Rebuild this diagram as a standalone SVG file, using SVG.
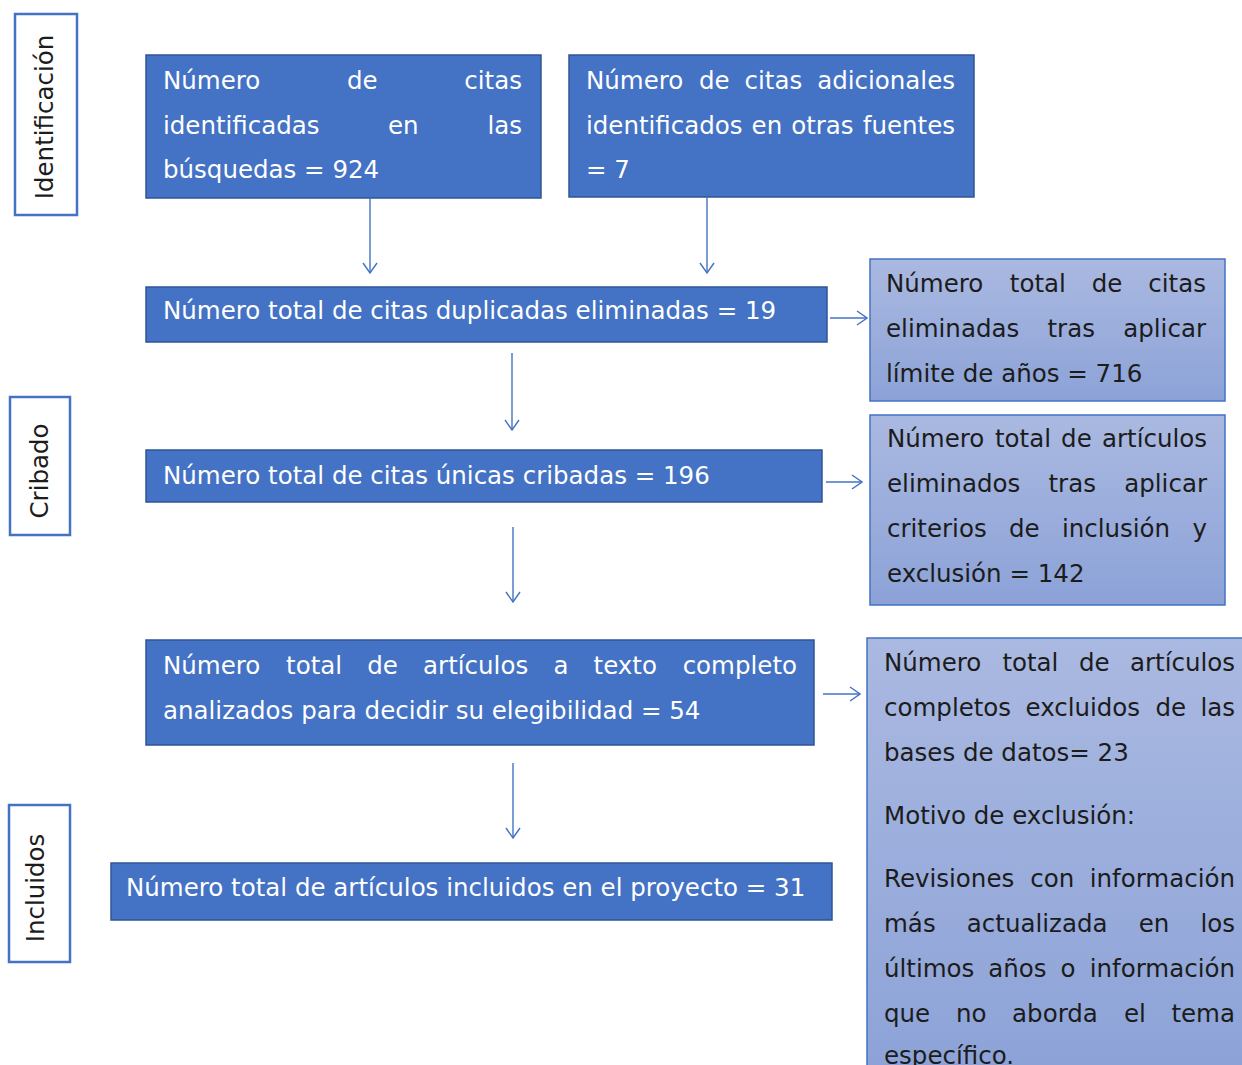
<svg xmlns="http://www.w3.org/2000/svg" width="1242" height="1065" viewBox="0 0 1242 1065">
<style>
text{font-family:"DejaVu Sans","Verdana",sans-serif;font-size:24.5px}
.w{fill:#ffffff}
.d{fill:#1c1c1c}
.main{fill:#4472C4;stroke:#2F5597;stroke-width:1.5}
.side{fill:url(#g);stroke:#4472C4;stroke-width:1.5}
.lab{fill:#ffffff;stroke:#4472C4;stroke-width:2.5}
.c{stroke:#4472C4;stroke-width:1.4;fill:none}
</style>
<defs>
<linearGradient id="g" x1="0" y1="0" x2="0" y2="1">
<stop offset="0" stop-color="#AAB9E1"/>
<stop offset="1" stop-color="#8CA2D7"/>
</linearGradient>
<marker id="a" viewBox="0 0 12 16" refX="11" refY="8" markerWidth="12" markerHeight="16" markerUnits="userSpaceOnUse" orient="auto">
<path d="M1,1 L11,8 L1,15" fill="none" stroke="#4472C4" stroke-width="1.4"/>
</marker>
</defs>

<g id="label-identificacion">
<rect class="lab" x="15" y="14" width="62" height="201"/>
<text class="d" transform="translate(53,117) rotate(-90)" text-anchor="middle">Identificación</text>
</g>
<g id="label-cribado">
<rect class="lab" x="10" y="397" width="60" height="138"/>
<text class="d" transform="translate(48,471) rotate(-90)" text-anchor="middle">Cribado</text>
</g>
<g id="label-incluidos">
<rect class="lab" x="9" y="805" width="61" height="157"/>
<text class="d" transform="translate(44,888) rotate(-90)" text-anchor="middle">Incluidos</text>
</g>

<g id="n1">
<rect class="main" x="146" y="55" width="395" height="143"/>
<text class="w" y="89"><tspan x="163">Número</tspan><tspan x="347">de</tspan><tspan x="522" text-anchor="end">citas</tspan></text>
<text class="w" y="134"><tspan x="163">identificadas</tspan><tspan x="388">en</tspan><tspan x="522" text-anchor="end">las</tspan></text>
<text class="w" x="163" y="178">búsquedas = 924</text>
</g>

<g id="n2">
<rect class="main" x="569" y="55" width="405" height="142"/>
<text class="w" y="89"><tspan x="586">Número</tspan><tspan x="699">de</tspan><tspan x="744.5">citas</tspan><tspan x="955" text-anchor="end">adicionales</tspan></text>
<text class="w" y="134"><tspan x="586">identificados</tspan><tspan x="751.6">en</tspan><tspan x="791.2">otras</tspan><tspan x="955" text-anchor="end">fuentes</tspan></text>
<text class="w" x="586" y="178">= 7</text>
</g>

<g id="n3">
<rect class="main" x="146" y="287" width="681" height="55"/>
<text class="w" x="163" y="319">Número total de citas duplicadas eliminadas = 19</text>
</g>

<g id="n3b">
<rect class="side" x="870" y="259" width="355" height="142"/>
<text class="d" y="292"><tspan x="886">Número</tspan><tspan x="1009.8">total</tspan><tspan x="1091.7">de</tspan><tspan x="1206" text-anchor="end">citas</tspan></text>
<text class="d" y="337"><tspan x="886">eliminadas</tspan><tspan x="1047.5">tras</tspan><tspan x="1206" text-anchor="end">aplicar</tspan></text>
<text class="d" x="886" y="382">límite de años = 716</text>
</g>

<g id="n4">
<rect class="main" x="146" y="450" width="676" height="52"/>
<text class="w" x="163" y="484">Número total de citas únicas cribadas = 196</text>
</g>

<g id="n4b">
<rect class="side" x="870" y="415" width="355" height="190"/>
<text class="d" y="447"><tspan x="887">Número</tspan><tspan x="995">total</tspan><tspan x="1061.1">de</tspan><tspan x="1207" text-anchor="end">artículos</tspan></text>
<text class="d" y="492"><tspan x="887">eliminados</tspan><tspan x="1048.5">tras</tspan><tspan x="1207" text-anchor="end">aplicar</tspan></text>
<text class="d" y="537"><tspan x="887">criterios</tspan><tspan x="1009">de</tspan><tspan x="1061.9">inclusión</tspan><tspan x="1207" text-anchor="end">y</tspan></text>
<text class="d" x="887" y="582">exclusión = 142</text>
</g>

<g id="n5">
<rect class="main" x="146" y="640" width="668" height="105"/>
<text class="w" y="674"><tspan x="163">Número</tspan><tspan x="286.1">total</tspan><tspan x="367.3">de</tspan><tspan x="423.1">artículos</tspan><tspan x="553.4">a</tspan><tspan x="593.6">texto</tspan><tspan x="797" text-anchor="end">completo</tspan></text>
<text class="w" x="163" y="719">analizados para decidir su elegibilidad = 54</text>
</g>

<g id="n5b">
<rect class="side" x="867" y="638" width="390" height="440"/>
<text class="d" y="671"><tspan x="884">Número</tspan><tspan x="1002.4">total</tspan><tspan x="1078.9">de</tspan><tspan x="1235" text-anchor="end">artículos</tspan></text>
<text class="d" y="716"><tspan x="884">completos</tspan><tspan x="1025.5">excluidos</tspan><tspan x="1155.4">de</tspan><tspan x="1235" text-anchor="end">las</tspan></text>
<text class="d" x="884" y="761">bases de datos= 23</text>
<text class="d" x="884" y="824">Motivo de exclusión:</text>
<text class="d" y="887"><tspan x="884">Revisiones</tspan><tspan x="1030.3">con</tspan><tspan x="1235" text-anchor="end">información</tspan></text>
<text class="d" y="932"><tspan x="884">más</tspan><tspan x="966.8">actualizada</tspan><tspan x="1138.7">en</tspan><tspan x="1235" text-anchor="end">los</tspan></text>
<text class="d" y="977"><tspan x="884">últimos</tspan><tspan x="988.3">años</tspan><tspan x="1060.5">o</tspan><tspan x="1235" text-anchor="end">información</tspan></text>
<text class="d" y="1022"><tspan x="884">que</tspan><tspan x="955.9">no</tspan><tspan x="1012.1">aborda</tspan><tspan x="1124">el</tspan><tspan x="1235" text-anchor="end">tema</tspan></text>
<text class="d" x="884" y="1064">específico.</text>
</g>

<g id="n6">
<rect class="main" x="111" y="863" width="721" height="57"/>
<text class="w" x="126" y="896">Número total de artículos incluidos en el proyecto = 31</text>
</g>

<g id="connectors">
<line class="c" x1="370" y1="198" x2="370" y2="273" marker-end="url(#a)"/>
<line class="c" x1="707" y1="197" x2="707" y2="273" marker-end="url(#a)"/>
<line class="c" x1="830" y1="318" x2="867" y2="318" marker-end="url(#a)"/>
<line class="c" x1="512" y1="353" x2="512" y2="430" marker-end="url(#a)"/>
<line class="c" x1="826" y1="482" x2="862" y2="482" marker-end="url(#a)"/>
<line class="c" x1="513" y1="527" x2="513" y2="602" marker-end="url(#a)"/>
<line class="c" x1="823" y1="694" x2="860" y2="694" marker-end="url(#a)"/>
<line class="c" x1="513" y1="763" x2="513" y2="838" marker-end="url(#a)"/>
</g>
</svg>
